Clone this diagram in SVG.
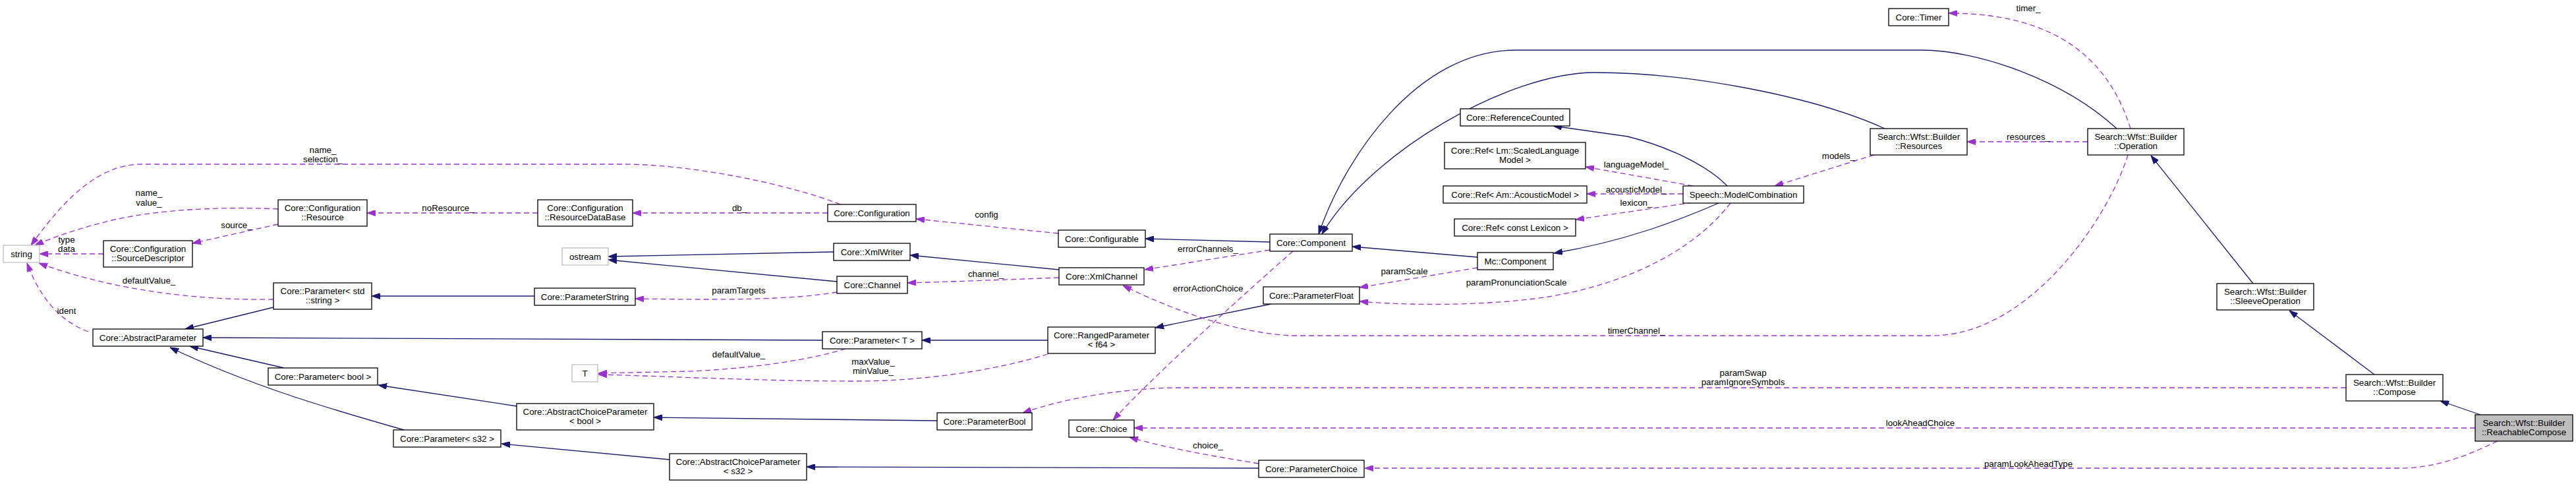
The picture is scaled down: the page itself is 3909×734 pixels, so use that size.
<svg xmlns="http://www.w3.org/2000/svg" width="3909" height="734" viewBox="0 0 3909 734">
<style>
text{font-family:"Liberation Sans",Arial,Helvetica,sans-serif;font-size:13.33px;fill:#000;text-anchor:middle}
.n rect{fill:#fff;stroke:#000;stroke-width:1.3}
.x rect{fill:#fff;stroke:#bfbfbf;stroke-width:1.3}
.t rect{fill:#bfbfbf;stroke:#000;stroke-width:1.3}
.inh{fill:none;stroke:#191970;stroke-width:1.3;marker-end:url(#ai)}
.use{fill:none;stroke:#9a32cd;stroke-width:1.3;stroke-dasharray:8,5;marker-end:url(#au)}
</style>
<defs>
<marker id="ai" viewBox="0 0 13 9" refX="13" refY="4.5" markerWidth="13" markerHeight="9" markerUnits="userSpaceOnUse" orient="auto"><path d="M0,0 L13,4.5 L0,9 z" fill="#191970" stroke="#191970" stroke-dasharray="none"/></marker>
<marker id="au" viewBox="0 0 13 9" refX="13" refY="4.5" markerWidth="13" markerHeight="9" markerUnits="userSpaceOnUse" orient="auto"><path d="M0,0 L13,4.5 L0,9 z" fill="#9a32cd" stroke="#9a32cd" stroke-dasharray="none"/></marker>
</defs>
<rect width="3909" height="734" fill="#fff"/>
<g id="edges">
<path class="inh" d="M415,466 L281,499"/>
<path class="inh" d="M811,449 L564,449"/>
<path class="inh" d="M1248,516 L308,512"/>
<path class="inh" d="M431,558 L288,525"/>
<path class="inh" d="M613,652 C500,620 380,585 258,527"/>
<path class="inh" d="M784,616 L574,584"/>
<path class="inh" d="M1016,697 L761,673"/>
<path class="inh" d="M1590,516 L1399,516"/>
<path class="inh" d="M1422,638 L992,633"/>
<path class="inh" d="M1910,710 L1224,708"/>
<path class="inh" d="M1929,461 L1753,497"/>
<path class="inh" d="M1927,367 L1738,362"/>
<path class="inh" d="M1607,409 L1381,387"/>
<path class="inh" d="M1265,382 L923,389"/>
<path class="inh" d="M1270,427 L923,394"/>
<path class="inh" d="M2242,390 L2052,374"/>
<path class="inh" d="M3212,195 C3130,120 3000,76 2916,76 L2300,76 C2150,76 2040,240 2001,355"/>
<path class="inh" d="M2860,195 C2750,145 2560,110 2420,110 C2290,110 2080,230 2006,355"/>
<path class="inh" d="M2621,282 C2590,250 2530,222 2470,207 L2357,191"/>
<path class="inh" d="M2608,308 C2550,333 2470,365 2358,384"/>
<path class="inh" d="M3419,430 L3264,236"/>
<path class="inh" d="M3603,568 L3474,471"/>
<path class="inh" d="M3764,629 L3703,608"/>
<path class="use" d="M1275,310 C1200,280 1050,249 945,249 L215,249 C140,249 85,320 47,372"/>
<path class="use" d="M422,317 C330,313 240,318 170,334 C120,346 80,360 53,372"/>
<path class="use" d="M157,385 L60,385"/>
<path class="use" d="M422,340 L292,369"/>
<path class="use" d="M816,323 L557,323"/>
<path class="use" d="M1256,323 L960,323"/>
<path class="use" d="M415,454 C300,456 170,440 59,399"/>
<path class="use" d="M134,503 C90,487 60,450 41,399"/>
<path class="use" d="M1606,354 L1390,332"/>
<path class="use" d="M1607,421 C1530,424 1450,427 1377,429"/>
<path class="use" d="M1270,443 C1200,455 1100,455 964,453"/>
<path class="use" d="M1927,379 L1737,409"/>
<path class="use" d="M1962,381 C1900,435 1750,570 1689,637"/>
<path class="use" d="M3229,235 C3200,330 3080,508 2933,509 L1960,509 C1880,505 1790,475 1704,433"/>
<path class="use" d="M1590,537 C1510,562 1400,578 1300,578 C1150,578 1000,570 908,568"/>
<path class="use" d="M1283,529 C1230,545 1150,558 1050,563 L908,566"/>
<path class="use" d="M2242,406 L2063,436"/>
<path class="use" d="M2626,308 C2570,380 2470,430 2350,450 C2250,465 2130,463 2063,457"/>
<path class="use" d="M2569,282 L2406,253"/>
<path class="use" d="M2554,294 L2408,294"/>
<path class="use" d="M2569,307 L2391,333"/>
<path class="use" d="M2844,235 L2693,282"/>
<path class="use" d="M3168,215 L2985,215"/>
<path class="use" d="M3233,195 C3200,90 3120,20 2957,20"/>
<path class="use" d="M3560,588 L1780,588 C1700,590 1620,603 1552,626"/>
<path class="use" d="M3756,649 L1721,649"/>
<path class="use" d="M3790,669 C3745,690 3700,710 3640,710 L2071,710"/>
<path class="use" d="M1910,703 C1860,695 1770,680 1714,663"/>
<text x="490" y="232">name_</text><text x="490" y="246">selection_</text>
<text x="226" y="297">name_</text><text x="226" y="312">value_</text>
<text x="359" y="346">source_</text>
<text x="101" y="368">type</text><text x="101" y="382">data</text>
<text x="226" y="430">defaultValue_</text>
<text x="101" y="476">ident</text>
<text x="680" y="320">noResource_</text>
<text x="1122" y="320">db_</text>
<text x="1121" y="445">paramTargets</text>
<text x="1121" y="542">defaultValue_</text>
<text x="1325" y="553">maxValue_</text><text x="1325" y="567">minValue_</text>
<text x="1497" y="330">config</text>
<text x="1496" y="420">channel_</text>
<text x="1833" y="382">errorChannels_</text>
<text x="1833" y="442">errorActionChoice</text>
<text x="1833" y="680">choice_</text>
<text x="2483" y="254">languageModel_</text>
<text x="2483" y="292">acousticModel_</text>
<text x="2483" y="312">lexicon_</text>
<text x="2131" y="416">paramScale</text>
<text x="2301" y="433">paramPronunciationScale</text>
<text x="2483" y="506">timerChannel_</text>
<text x="3078" y="17">timer_</text>
<text x="3078" y="212">resources_</text>
<text x="2790" y="241">models_</text>
<text x="2645" y="570">paramSwap</text><text x="2645" y="584">paramIgnoreSymbols</text>
<text x="2914" y="646">lookAheadChoice</text>
<text x="3078" y="708">paramLookAheadType</text>
</g>
<g id="string" class="x"><rect x="5" y="372" width="55" height="26"/><text x="32.5" y="390">string</text></g>
<g id="ostream" class="x"><rect x="853" y="376" width="70" height="26"/><text x="888" y="394">ostream</text></g>
<g id="T" class="x"><rect x="868" y="553" width="39" height="26"/><text x="887.5" y="571">T</text></g>
<g id="Resource" class="n"><rect x="422" y="303" width="135" height="40"/><text x="489.5" y="320">Core::Configuration</text><text x="489.5" y="334">::Resource</text></g>
<g id="SourceDescriptor" class="n"><rect x="157" y="365" width="135" height="40"/><text x="224.5" y="382">Core::Configuration</text><text x="224.5" y="396">::SourceDescriptor</text></g>
<g id="ParameterStdString" class="n"><rect x="415" y="429" width="149" height="40"/><text x="489.5" y="446">Core::Parameter&lt; std</text><text x="489.5" y="460">::string &gt;</text></g>
<g id="AbstractParameter" class="n"><rect x="141" y="499" width="167" height="26"/><text x="224.5" y="517">Core::AbstractParameter</text></g>
<g id="ParameterBoolT" class="n"><rect x="407" y="558" width="166" height="26"/><text x="490" y="576">Core::Parameter&lt; bool &gt;</text></g>
<g id="ParameterS32" class="n"><rect x="597" y="652" width="163" height="26"/><text x="678.5" y="670">Core::Parameter&lt; s32 &gt;</text></g>
<g id="ResourceDataBase" class="n"><rect x="816" y="303" width="144" height="40"/><text x="888" y="320">Core::Configuration</text><text x="888" y="334">::ResourceDataBase</text></g>
<g id="ParameterString" class="n"><rect x="811" y="437" width="153" height="26"/><text x="887.5" y="455">Core::ParameterString</text></g>
<g id="AbstractChoiceParameterBool" class="n"><rect x="784" y="612" width="208" height="40"/><text x="888" y="629">Core::AbstractChoiceParameter</text><text x="888" y="643">&lt; bool &gt;</text></g>
<g id="Configuration" class="n"><rect x="1256" y="310" width="134" height="26"/><text x="1323" y="328">Core::Configuration</text></g>
<g id="XmlWriter" class="n"><rect x="1265" y="369" width="116" height="26"/><text x="1323" y="387">Core::XmlWriter</text></g>
<g id="Channel" class="n"><rect x="1270" y="419" width="107" height="26"/><text x="1323.5" y="437">Core::Channel</text></g>
<g id="ParameterT" class="n"><rect x="1248" y="503" width="151" height="26"/><text x="1323.5" y="521">Core::Parameter&lt; T &gt;</text></g>
<g id="AbstractChoiceParameterS32" class="n"><rect x="1016" y="688" width="208" height="40"/><text x="1120" y="705">Core::AbstractChoiceParameter</text><text x="1120" y="719">&lt; s32 &gt;</text></g>
<g id="ParameterBool" class="n"><rect x="1422" y="626" width="144" height="26"/><text x="1494" y="644">Core::ParameterBool</text></g>
<g id="Configurable" class="n"><rect x="1606" y="349" width="132" height="26"/><text x="1672" y="367">Core::Configurable</text></g>
<g id="XmlChannel" class="n"><rect x="1607" y="406" width="129" height="26"/><text x="1671.5" y="424">Core::XmlChannel</text></g>
<g id="RangedParameter" class="n"><rect x="1590" y="496" width="163" height="40"/><text x="1671.5" y="513">Core::RangedParameter</text><text x="1671.5" y="527">&lt; f64 &gt;</text></g>
<g id="Choice" class="n"><rect x="1622" y="637" width="99" height="26"/><text x="1671.5" y="655">Core::Choice</text></g>
<g id="Component" class="n"><rect x="1927" y="355" width="125" height="26"/><text x="1989.5" y="373">Core::Component</text></g>
<g id="ParameterFloat" class="n"><rect x="1917" y="435" width="146" height="26"/><text x="1990" y="453">Core::ParameterFloat</text></g>
<g id="ParameterChoice" class="n"><rect x="1910" y="698" width="160" height="26"/><text x="1990" y="716">Core::ParameterChoice</text></g>
<g id="ReferenceCounted" class="n"><rect x="2216" y="165" width="166" height="26"/><text x="2299" y="183">Core::ReferenceCounted</text></g>
<g id="RefLm" class="n"><rect x="2192" y="216" width="214" height="40"/><text x="2299" y="233">Core::Ref&lt; Lm::ScaledLanguage</text><text x="2299" y="247">Model &gt;</text></g>
<g id="RefAm" class="n"><rect x="2190" y="282" width="218" height="26"/><text x="2299" y="300">Core::Ref&lt; Am::AcousticModel &gt;</text></g>
<g id="RefLexicon" class="n"><rect x="2207" y="332" width="184" height="26"/><text x="2299" y="350">Core::Ref&lt; const Lexicon &gt;</text></g>
<g id="McComponent" class="n"><rect x="2242" y="383" width="115" height="26"/><text x="2299.5" y="401">Mc::Component</text></g>
<g id="ModelCombination" class="n"><rect x="2554" y="282" width="183" height="26"/><text x="2645.5" y="300">Speech::ModelCombination</text></g>
<g id="Timer" class="n"><rect x="2866" y="13" width="91" height="26"/><text x="2911.5" y="31">Core::Timer</text></g>
<g id="Resources" class="n"><rect x="2838" y="195" width="147" height="40"/><text x="2911.5" y="212">Search::Wfst::Builder</text><text x="2911.5" y="226">::Resources</text></g>
<g id="Operation" class="n"><rect x="3168" y="195" width="146" height="40"/><text x="3241" y="212">Search::Wfst::Builder</text><text x="3241" y="226">::Operation</text></g>
<g id="SleeveOperation" class="n"><rect x="3364" y="430" width="147" height="40"/><text x="3437.5" y="447">Search::Wfst::Builder</text><text x="3437.5" y="461">::SleeveOperation</text></g>
<g id="Compose" class="n"><rect x="3560" y="568" width="147" height="40"/><text x="3633.5" y="585">Search::Wfst::Builder</text><text x="3633.5" y="599">::Compose</text></g>
<g id="ReachableCompose" class="t"><rect x="3756" y="629" width="148" height="40"/><text x="3830" y="646">Search::Wfst::Builder</text><text x="3830" y="660">::ReachableCompose</text></g>
</svg>
